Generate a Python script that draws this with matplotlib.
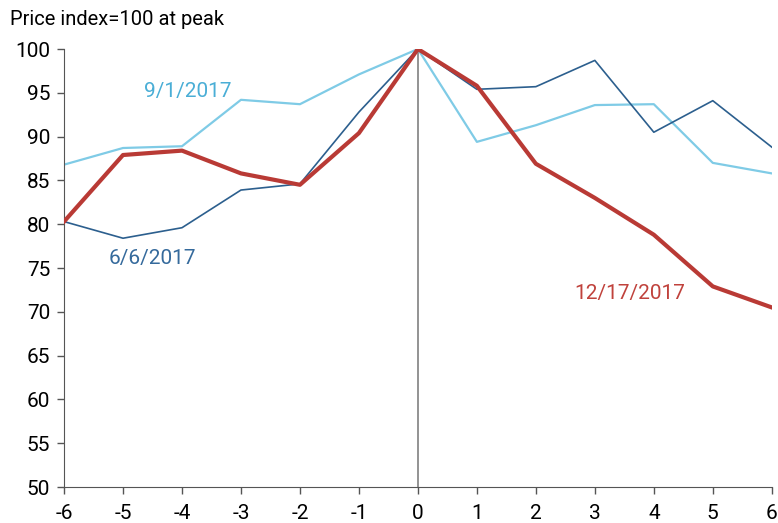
import matplotlib
matplotlib.use("Agg")
import matplotlib.pyplot as plt

plt.rcParams['font.family'] = ['Roboto', 'DejaVu Sans']

months = [-6, -5, -4, -3, -2, -1, 0, 1, 2, 3, 4, 5, 6]
sep_2017 = [86.8, 88.7, 88.9, 94.2, 93.7, 97.1, 100, 89.4, 91.3, 93.6, 93.7, 87.0, 85.8]
jun_2017 = [80.3, 78.4, 79.6, 83.9, 84.6, 92.8, 100, 95.4, 95.7, 98.7, 90.5, 94.1, 88.8]
dec_2017 = [80.3, 87.9, 88.4, 85.8, 84.5, 90.4, 100, 95.8, 86.9, 83.0, 78.8, 72.9, 70.5]

light_blue = "#7fcbe6"
dark_blue = "#2c5f8e"
red = "#b93a35"

fig = plt.figure(figsize=(7.78, 5.23), dpi=100)
ax = fig.add_axes([0.0823, 0.0688, 0.9097, 0.8375])

ax.axvline(0, color="#808080", lw=1.2, zorder=1)
ax.plot(months, sep_2017, color=light_blue, lw=1.6, zorder=2)
ax.plot(months, jun_2017, color=dark_blue, lw=1.2, zorder=3)
ax.plot(months, dec_2017, color=red, lw=3.0, zorder=4)

ax.text(-3.9, 95.1, "9/1/2017", color="#4aaed6", fontsize=15, ha="center", va="center")
ax.text(-4.5, 76.1, "6/6/2017", color="#356a9c", fontsize=15, ha="center", va="center")
ax.text(3.6, 72.1, "12/17/2017", color="#c0423c", fontsize=15, ha="center", va="center")

ax.set_xlim(-6, 6)
ax.set_ylim(50, 100)
ax.set_xticks(months)
ax.set_xticklabels([str(m) for m in months])
ax.set_yticks(range(50, 101, 5))
ax.tick_params(labelsize=15, color="#555555", length=5, width=1)
ax.tick_params(axis="x", pad=7)
ax.tick_params(axis="y", pad=5)
ax.spines["top"].set_visible(False)
ax.spines["right"].set_visible(False)
ax.spines["left"].set_color("#555555")
ax.spines["bottom"].set_color("#555555")

fig.text(0.013, 0.962, "Price index=100 at peak", fontsize=14.5, ha="left", va="center")

fig.savefig("out.png", dpi=100)
